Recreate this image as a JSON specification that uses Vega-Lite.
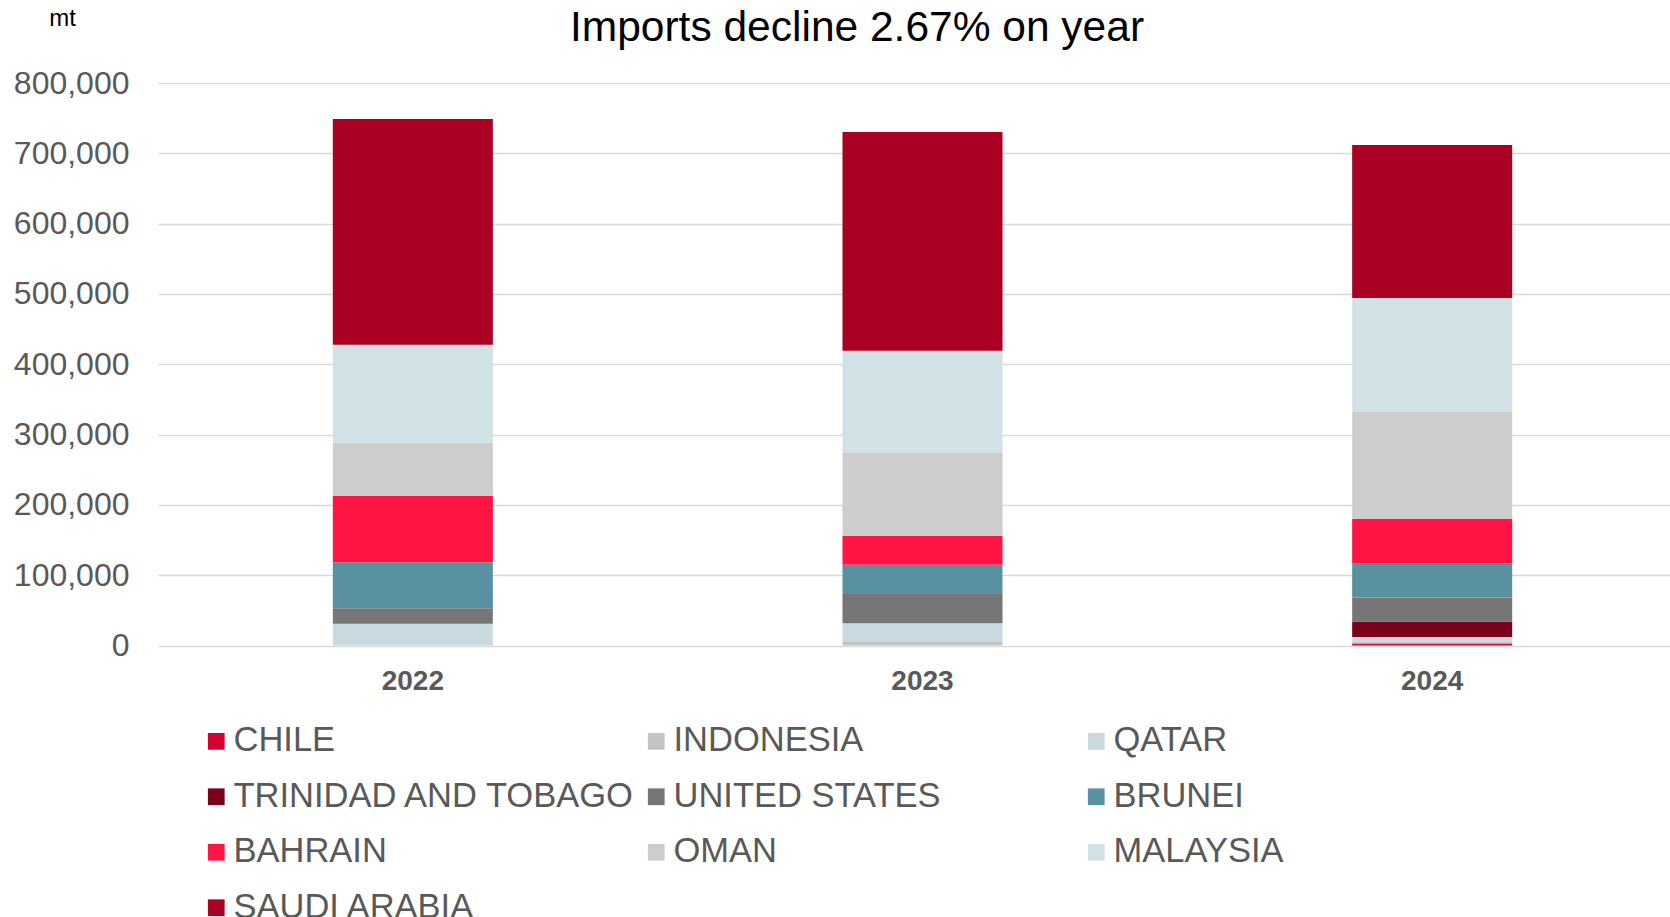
{
  "$schema": "https://vega.github.io/schema/vega-lite/v6.json",
  "width": 1512,
  "height": 562.6,
  "autosize": {"type": "none"},
  "padding": {"left": 158, "top": 83, "right": 0, "bottom": 271.4},
  "background": "white",
  "config": {"view": {"stroke": null}, "font": "Liberation Sans"},
  "title": {"text": "Imports decline 2.67% on year", "fontSize": 42.5, "font": "Liberation Sans", "fontWeight": "normal", "color": "#000000", "anchor": "middle", "dx": -57, "dy": 53, "offset": 10},
  "data": {"values": [
    {"year": "2022", "country": "QATAR", "value": 30900},
    {"year": "2022", "country": "UNITED STATES", "value": 22300},
    {"year": "2022", "country": "BRUNEI", "value": 65400},
    {"year": "2022", "country": "BAHRAIN", "value": 94300},
    {"year": "2022", "country": "OMAN", "value": 75900},
    {"year": "2022", "country": "MALAYSIA", "value": 138900},
    {"year": "2022", "country": "SAUDI ARABIA", "value": 321100},
    {"year": "2023", "country": "INDONESIA", "value": 5000},
    {"year": "2023", "country": "QATAR", "value": 26800},
    {"year": "2023", "country": "UNITED STATES", "value": 41700},
    {"year": "2023", "country": "BRUNEI", "value": 41300},
    {"year": "2023", "country": "BAHRAIN", "value": 41200},
    {"year": "2023", "country": "OMAN", "value": 117700},
    {"year": "2023", "country": "MALAYSIA", "value": 145500},
    {"year": "2023", "country": "SAUDI ARABIA", "value": 311100},
    {"year": "2024", "country": "CHILE", "value": 3000},
    {"year": "2024", "country": "INDONESIA", "value": 2500},
    {"year": "2024", "country": "QATAR", "value": 6900},
    {"year": "2024", "country": "TRINIDAD AND TOBAGO", "value": 21700},
    {"year": "2024", "country": "UNITED STATES", "value": 34200},
    {"year": "2024", "country": "BRUNEI", "value": 49300},
    {"year": "2024", "country": "BAHRAIN", "value": 62800},
    {"year": "2024", "country": "OMAN", "value": 151800},
    {"year": "2024", "country": "MALAYSIA", "value": 162000},
    {"year": "2024", "country": "SAUDI ARABIA", "value": 217500}
  ]},
  "transform": [
    {"calculate": "indexof(['CHILE','INDONESIA','QATAR','TRINIDAD AND TOBAGO','UNITED STATES','BRUNEI','BAHRAIN','OMAN','MALAYSIA','SAUDI ARABIA'], datum.country)", "as": "stackRank"}
  ],
  "mark": {"type": "bar"},
  "encoding": {
    "x": {
      "field": "year", "type": "ordinal",
      "scale": {"paddingInner": 0.686, "paddingOuter": 0.343, "range": [0, 1529]},
      "axis": {"title": null, "labelAngle": 0, "labelFontSize": 28, "labelFontWeight": "bold", "labelColor": "#595959", "ticks": false, "domain": false, "labelPadding": 22}
    },
    "y": {
      "field": "value", "type": "quantitative", "stack": "zero",
      "scale": {"domain": [0, 800000]},
      "axis": {
        "values": [0, 100000, 200000, 300000, 400000, 500000, 600000, 700000, 800000],
        "format": ",d",
        "title": "mt", "titleAngle": 0, "titleX": -96, "titleY": -65, "titleAlign": "center", "titleBaseline": "middle",
        "titleFontSize": 24, "titleFontWeight": "normal", "titleColor": "#000000",
        "labelFontSize": 32, "labelColor": "#595959", "ticks": false, "tickSize": 0, "domain": false, "labelPadding": 29,
        "gridColor": "#D9D9D9", "gridWidth": 1.5
      }
    },
    "order": {"field": "stackRank", "type": "quantitative", "sort": "ascending"},
    "color": {
      "field": "country", "type": "nominal",
      "scale": {
        "domain": ["CHILE", "INDONESIA", "QATAR", "TRINIDAD AND TOBAGO", "UNITED STATES", "BRUNEI", "BAHRAIN", "OMAN", "MALAYSIA", "SAUDI ARABIA"],
        "range": ["#D50032", "#C3C3C3", "#C8DAE0", "#7B0019", "#767676", "#5A91A1", "#FF1443", "#CDCDCD", "#D2E1E6", "#A90024"]
      },
      "legend": {
        "orient": "none", "legendX": 41, "legendY": 641, "columns": 3, "direction": "horizontal", "title": null,
        "symbolType": "square", "symbolSize": 280, "symbolStrokeWidth": 0,
        "labelFontSize": 34.5, "labelColor": "#595959", "labelLimit": 600, "labelOffset": 0,
        "columnPadding": 3, "rowPadding": 20.5, "gridAlign": "all", "padding": 0
      }
    }
  }
}
